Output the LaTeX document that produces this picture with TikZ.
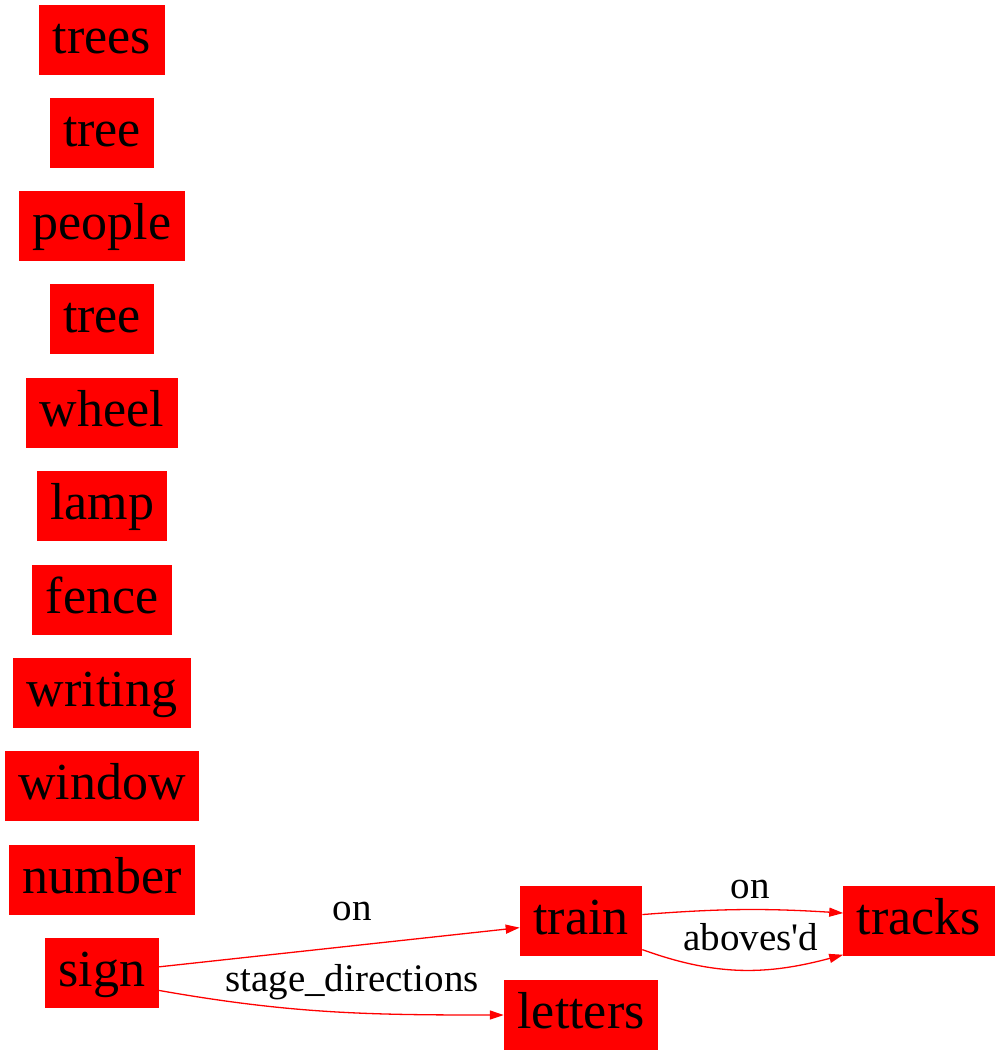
\documentclass[tikz,border=0pt]{standalone}
\usepackage{fontspec}
\setmainfont{Liberation Serif}
\newfontfamily\plainserif{Liberation Serif}
\usetikzlibrary{arrows.meta,positioning}

\begin{document}
\begin{tikzpicture}[
  x=1pt,y=-1pt,
  entity/.style={fill=red,inner xsep=13.5pt,inner ysep=0pt,minimum height=70pt,
    font=\fontsize{52}{56}\selectfont,text height=37pt,text depth=11pt},
  rel/.style={anchor=base,inner sep=0pt,font=\plainserif\fontsize{39}{41}\selectfont},
  arrow/.style={-{Triangle[length=14pt,width=9pt]},red,line width=1.3pt}
]
  \useasboundingbox (0,0) rectangle (1000,1055);

  \node[entity] (trees)   at (102,40)  {trees};
  \node[entity] (tree1)   at (102,133) {tree};
  \node[entity] (people)  at (102,226) {people};
  \node[entity] (tree2)   at (102,319) {tree};
  \node[entity] (wheel)   at (102,413) {wheel};
  \node[entity] (lamp)    at (102,506) {lamp};
  \node[entity] (fence)   at (102,600) {fence};
  \node[entity] (writing) at (102,693) {writing};
  \node[entity] (window)  at (102,786) {window};
  \node[entity] (number)  at (102,880) {number};
  \node[entity] (sign)    at (102,973) {sign};

  \node[entity] (train)   at (581,921)  {train};
  \node[entity] (letters) at (581,1015) {letters};
  \node[entity] (tracks)  at (919,921)  {tracks};

  \draw[arrow] (sign) -- (train);
  \node[rel] (lon1) at (352,920) {on};
  \draw[arrow] (sign.-17) to[out=-10,in=180] (letters.west);
  \node[rel] (lstage) at (352,991) {stage\_directions};

  \draw[arrow] (train.6) to[bend left=4] (tracks.174);
  \node[rel] (lon2) at (750,898) {on};
  \draw[arrow] (train.-25) to[out=-20,in=195] (tracks.204);
  \node[rel] (labove) at (751,950) {aboves'd};
\end{tikzpicture}
\end{document}
